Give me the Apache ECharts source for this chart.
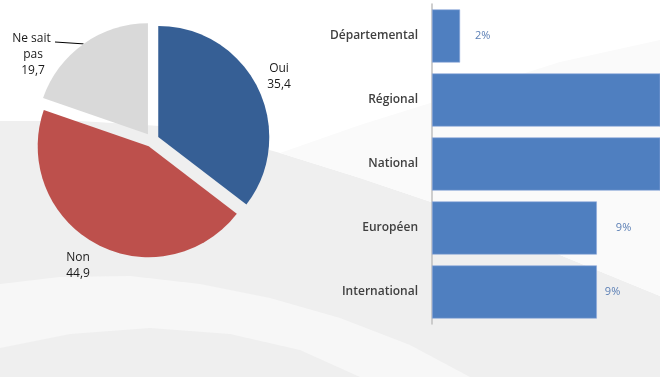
<!DOCTYPE html>
<html>
<head>
<meta charset="utf-8">
<script src="https://cdn.jsdelivr.net/npm/echarts@6/dist/echarts.min.js"></script>
<style>
  html, body { margin: 0; padding: 0; }
  #chart { width: 660px; height: 377px; }
</style>
</head>
<body>
<div id="chart"></div>
<script>
// pie: answers
var pieNames = ['Oui', 'Non', 'Ne sait pas'];
var pieValues = [35.4, 44.9, 19.7];
var pieColors = ['#365f95', '#bd504c', '#d9d9d9'];
var pieLabelPos = [[279, 77], [78, 266], [33, 55]];
var pieLabelLine = [false, false, true];

// bars: level
var levels = ['Départemental', 'Régional', 'National', 'Européen', 'International'];
var levelValues = [1.6, 42, 38, 9.4, 9.4];
var levelLabelGap = [15, 5, 5, 19, 8];

var myChart = echarts.init(document.getElementById('chart'));

var pieCenter = [152, 140];
var explode = 7;
var total = pieValues.reduce(function (a, b) { return a + b; }, 0);

// one pie series per slice, so that each slice can be pulled out
var pieSeries = [];
var cum = 0;
pieValues.forEach(function (v, i) {
    var mid = (cum + v / 2) / total * 2 * Math.PI;
    cum += v;
    pieSeries.push({
        type: 'pie',
        silent: true,
        center: [pieCenter[0] + explode * Math.sin(mid), pieCenter[1] - explode * Math.cos(mid)],
        radius: 111,
        startAngle: 90,
        clockwise: true,
        data: pieNames.map(function (n, j) {
            return {
                name: n,
                value: pieValues[j],
                itemStyle: { color: j === i ? pieColors[j] : 'rgba(0,0,0,0)' },
                label: { show: j === i },
                labelLine: { show: j === i && pieLabelLine[j] }
            };
        }),
        label: {
            position: 'outside',
            color: '#1a1a1a',
            fontFamily: 'Open Sans',
            fontSize: 12,
            lineHeight: 16,
            width: 48,
            overflow: 'break',
            align: 'center',
            formatter: function (p) {
                return p.name + '\n' + p.value.toFixed(1).replace('.', ',');
            }
        },
        labelLine: {
            length: 10,
            length2: 10,
            lineStyle: { color: '#000000', width: 1 }
        },
        labelLayout: function (params) {
            var pos = pieLabelPos[params.dataIndex];
            var res = { x: pos[0], y: pos[1], align: 'center', verticalAlign: 'middle' };
            var pts = params.labelLinePoints;
            if (pts && pts.length) {
                var end = [pos[0] + 22, pos[1] - 13];
                res.labelLinePoints = [pts[0], end, end];
            }
            return res;
        }
    });
});

var barData = levelValues.map(function (v, i) {
    return { value: v, label: { distance: levelLabelGap[i] } };
});

// background swooshes
function swoosh(points, fill) {
    return {
        type: 'polygon', z: -10, silent: true,
        shape: { points: points },
        style: { fill: fill }
    };
}

var option = {
    backgroundColor: '#efefef',
    animation: false,
    graphic: [
        swoosh([[0, 0], [660, 0], [660, 296], [560, 255], [440, 205], [360, 178],
                [280, 153], [220, 136], [160, 126], [80, 121], [0, 121]], '#ffffff'),
        swoosh([[280, 153], [360, 125], [440, 100], [560, 62], [660, 40], [660, 296],
                [560, 255], [440, 205], [360, 178]], '#fafafa'),
        swoosh([[0, 284], [60, 277], [130, 276], [200, 284], [270, 298], [340, 318],
                [410, 345], [470, 377], [0, 377]], '#f7f7f7'),
        swoosh([[0, 348], [70, 334], [150, 328], [230, 334], [300, 350], [360, 377],
                [0, 377]], '#efefef')
    ],
    grid: { left: 432, right: 0, top: 4, bottom: 53 },
    xAxis: {
        type: 'value',
        min: 0,
        max: 13,
        show: false
    },
    yAxis: {
        type: 'category',
        data: levels,
        inverse: true,
        axisLine: { lineStyle: { color: '#bfbfbf', width: 1.5 } },
        axisTick: { show: false },
        axisLabel: {
            color: '#404040',
            fontFamily: 'Open Sans',
            fontWeight: 600,
            fontSize: 12,
            margin: 14
        }
    },
    series: pieSeries.concat([
        {
            type: 'bar',
            data: barData,
            barCategoryGap: '17%',
            itemStyle: { color: '#4f7fc0', borderColor: '#8eaadb', borderWidth: 0.6 },
            label: {
                show: true,
                position: 'right',
                color: '#5b7fb5',
                fontFamily: 'Open Sans',
                fontSize: 11,
                formatter: function (p) {
                    return Math.round(p.value) + '%';
                }
            }
        }
    ])
};

option && myChart.setOption(option);
</script>
</body>
</html>
